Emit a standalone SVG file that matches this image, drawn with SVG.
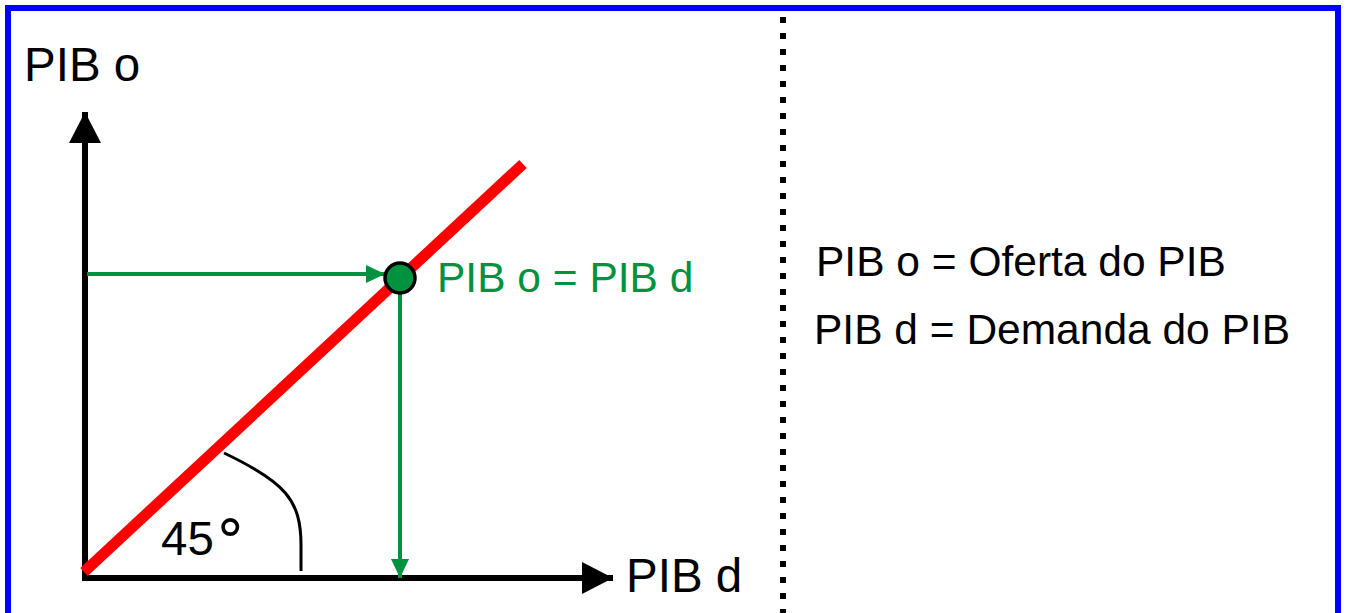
<svg xmlns="http://www.w3.org/2000/svg" width="1346" height="613" viewBox="0 0 1346 613">
<style>
text{font-family:"Liberation Sans",Arial,sans-serif;}
.lbl{font-size:47.5px;fill:#000;}
.leg{font-size:42.5px;fill:#000;}
.grn{font-size:42.5px;fill:#00923F;}
.ax{stroke:#000;stroke-width:6;fill:none;}
.gl{stroke:#00923F;stroke-width:4;fill:none;}
</style>
<defs>
<marker id="ah" markerUnits="userSpaceOnUse" markerWidth="32" markerHeight="32" refX="31" refY="16" orient="auto"><path d="M0,0 L31,16 L0,32 Z" fill="#000"/></marker>
<marker id="gh" markerUnits="userSpaceOnUse" markerWidth="20" markerHeight="18" refX="19" refY="9" orient="auto"><path d="M0,0 L19,9 L0,18 Z" fill="#00923F"/></marker>
</defs>
<rect x="8" y="8" width="1330" height="620" fill="#fff" stroke="#0000FF" stroke-width="6"/>
<line x1="783" y1="17" x2="783" y2="613" stroke="#000" stroke-width="6" stroke-dasharray="6 10"/>
<g id="connectors">
<line class="ax" x1="85" y1="578" x2="85" y2="112" marker-end="url(#ah)"/>
<line class="ax" x1="82" y1="578" x2="613" y2="578" marker-end="url(#ah)"/>
<line x1="84" y1="572" x2="523" y2="164" stroke="#FF0000" stroke-width="11"/>
<path d="M224,453 C285,482 301,500 301,545 L301,571" stroke="#000" stroke-width="3" fill="none"/>
<line class="gl" x1="87" y1="274" x2="385" y2="274" marker-end="url(#gh)"/>
<line class="gl" x1="400" y1="292" x2="400" y2="578" marker-end="url(#gh)"/>
</g>
<g id="point">
<circle cx="400" cy="278" r="15" fill="#00923F" stroke="#000" stroke-width="3.5"/>
<text class="grn" x="437" y="292">PIB o = PIB d</text>
</g>
<g id="labels">
<text class="lbl" x="24" y="81">PIB o</text>
<text class="lbl" x="626" y="592">PIB d</text>
<text class="lbl" x="161" y="555">45<tspan font-family="DejaVu Sans" font-size="58" dx="2" dy="6">°</tspan></text>
</g>
<g id="legend">
<text class="leg" x="816" y="276">PIB o = Oferta do PIB</text>
<text class="leg" x="814" y="344">PIB d = Demanda do PIB</text>
</g>
</svg>
